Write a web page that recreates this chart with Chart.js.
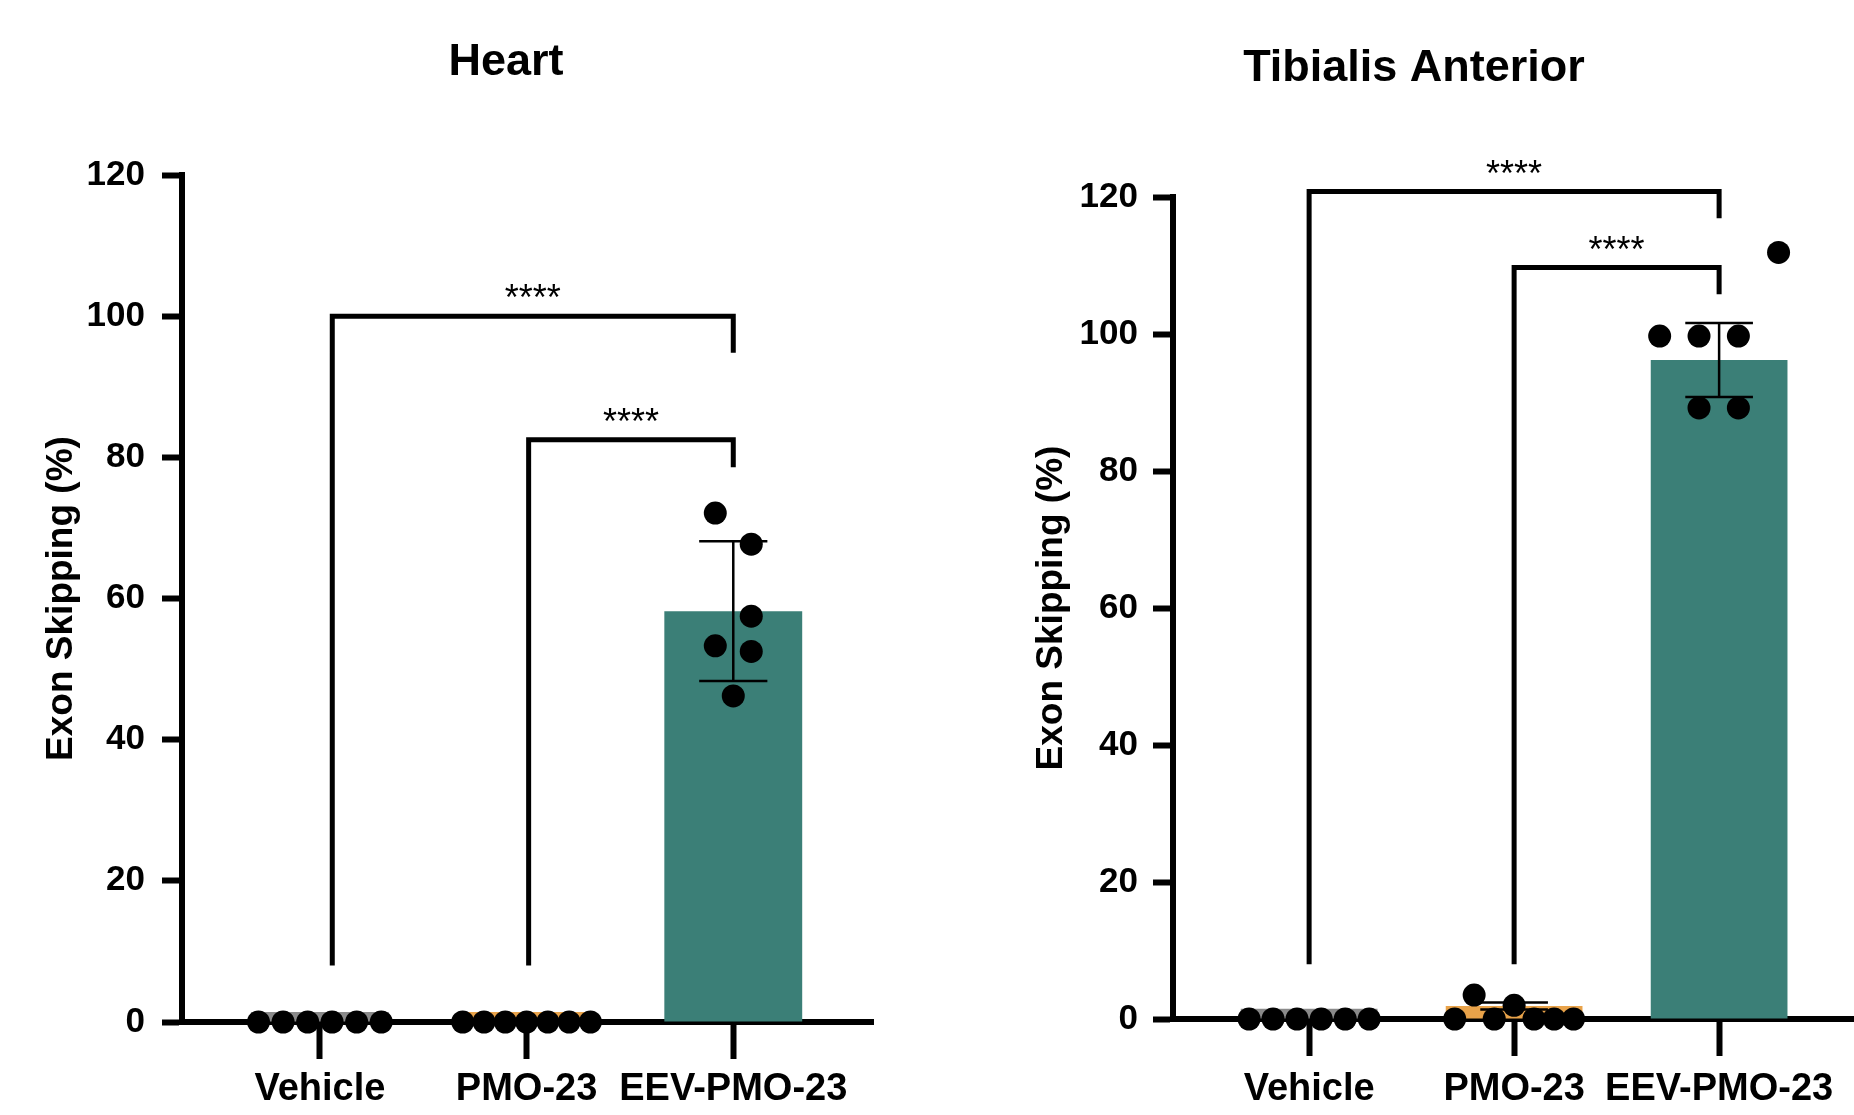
<!DOCTYPE html>
<html>
<head>
<meta charset="utf-8">
<title>Exon skipping</title>
<script src="https://cdn.jsdelivr.net/npm/chart.js@4.4.1/dist/chart.umd.min.js"></script>
<style>
  html, body { margin: 0; padding: 0; background: #fff; }
  body { width: 1854px; height: 1115px; position: relative; overflow: hidden; }
  canvas { position: absolute; top: 0; }
  #heart { left: 0; }
  #ta { left: 974px; }
</style>
</head>
<body>
<canvas id="heart" width="1012" height="1115"></canvas>
<canvas id="ta" width="880" height="1115"></canvas>
<script>
// Values
const groups = ['Vehicle', 'PMO-23', 'EEV-PMO-23'];
const yTicks = [0, 20, 40, 60, 80, 100, 120];

// Heart
const heartMeans = [1.4, 1.4, 58.2];
const heartSD = [0, 0, 9.9];
const heartPoints = [
    [0, 0, 0, 0, 0, 0],
    [0, 0, 0, 0, 0, 0, 0],
    [72.1, 67.7, 57.5, 53.3, 52.5, 46.2]
];
const heartSig = [
    { from: 0.06, to: 2, level: 100, end: 94.8, text: '****' },
    { from: 1.01, to: 2, level: 82.5, end: 78.6, text: '****' }
];

// Tibialis Anterior
const taMeans = [1.5, 1.9, 96.2];
const taSD = [0, 0.5, 5.4];
const taPoints = [
    [0, 0, 0, 0, 0, 0],
    [0, 3.5, 0, 2.0, 0, 0, 0],
    [99.7, 99.7, 99.7, 89.2, 89.2, 111.9]
];
const taSig = [
    { from: 0, to: 2, level: 120.8, end: 116.9, text: '****' },
    { from: 1, to: 2, level: 109.7, end: 105.8, text: '****' }
];

// horizontal spread of the dots inside each group (fraction of a group slot)
const heartJitter = [
    [-0.297, -0.178, -0.059, 0.059, 0.178, 0.297],
    [-0.309, -0.206, -0.103, 0, 0.103, 0.206, 0.309],
    [-0.087, 0.087, 0.087, -0.087, 0.087, 0]
];
const taJitter = [
    [-0.293, -0.176, -0.059, 0.059, 0.176, 0.293],
    [-0.29, -0.195, -0.097, 0, 0.097, 0.195, 0.29],
    [-0.29, -0.098, 0.094, -0.098, 0.094, 0.29]
];

const barColors = ['#8a8a8a', '#e9a34a', '#3b7f77'];
const FONT = "'Liberation Sans', Arial, Helvetica, sans-serif";
const LEG_BASE = 8;

Chart.defaults.font.family = FONT;
Chart.defaults.color = '#000';

// error bars, significance brackets and the panel title
function panelPlugin(cfg) {
    return {
        id: 'panel',
        afterDatasetDraw(chart, args) {
            if (args.index !== 0) return;
            const { x, y } = chart.scales;
            const ctx = chart.ctx;
            ctx.save();
            ctx.strokeStyle = '#000';
            ctx.lineWidth = 2.5;
            cfg.means.forEach((m, i) => {
                const sd = cfg.sd[i];
                if (!sd) return;
                const cx = x.getPixelForValue(i);
                const hi = y.getPixelForValue(m + sd);
                const lo = y.getPixelForValue(m - sd);
                const c0 = x.getPixelForValue(i - 0.165);
                const c1 = x.getPixelForValue(i + 0.165);
                ctx.beginPath();
                ctx.moveTo(cx, hi); ctx.lineTo(cx, lo);
                ctx.moveTo(c0, hi); ctx.lineTo(c1, hi);
                ctx.moveTo(c0, lo); ctx.lineTo(c1, lo);
                ctx.stroke();
            });
            ctx.restore();
        },
        afterDraw(chart) {
            const { x, y } = chart.scales;
            const ctx = chart.ctx;
            ctx.save();
            ctx.strokeStyle = '#000';
            ctx.fillStyle = '#000';
            ctx.lineWidth = 5;
            ctx.lineJoin = 'miter';
            ctx.lineCap = 'butt';
            ctx.font = '36px ' + FONT;
            ctx.textAlign = 'center';
            ctx.textBaseline = 'alphabetic';
            cfg.sig.forEach(s => {
                const x1 = x.getPixelForValue(s.from);
                const x2 = x.getPixelForValue(s.to);
                const yl = y.getPixelForValue(s.level);
                ctx.beginPath();
                ctx.moveTo(x1, y.getPixelForValue(LEG_BASE));
                ctx.lineTo(x1, yl);
                ctx.lineTo(x2, yl);
                ctx.lineTo(x2, y.getPixelForValue(s.end));
                ctx.stroke();
                ctx.fillText(s.text, (x1 + x2) / 2, yl - 6);
            });
            // panel title
            ctx.font = 'bold 45px ' + FONT;
            ctx.textBaseline = 'middle';
            ctx.fillText(cfg.title, chart.width / 2, cfg.titleY);
            ctx.restore();
        }
    };
}

function buildPanel(id, cfg) {
    const dots = [];
    cfg.points.forEach((vals, g) => {
        vals.forEach((v, k) => dots.push({ x: g + cfg.jitter[g][k], y: v }));
    });

    return new Chart(document.getElementById(id), {
        type: 'bar',
        data: {
            datasets: [
                {
                    type: 'bar',
                    data: cfg.means.map((m, i) => ({ x: i, y: m })),
                    backgroundColor: barColors,
                    categoryPercentage: 1,
                    barPercentage: 0.667,
                    order: 2
                },
                {
                    type: 'scatter',
                    data: dots,
                    pointRadius: 11.5,
                    pointBackgroundColor: '#000',
                    pointBorderWidth: 0,
                    clip: false,
                    order: 1
                }
            ]
        },
        options: {
            responsive: false,
            animation: false,
            events: [],
            layout: { padding: cfg.padding, autoPadding: false },
            plugins: {
                legend: { display: false },
                tooltip: { enabled: false }
            },
            scales: {
                x: {
                    type: 'linear',
                    min: cfg.xMin,
                    max: cfg.xMax,
                    offset: false,
                    z: 1,
                    afterBuildTicks: s => { s.ticks = groups.map((g, i) => ({ value: i })); },
                    afterFit: s => { s.height = cfg.xAxisHeight; },
                    grid: { offset: false, drawOnChartArea: false, tickLength: 37, tickWidth: 6, tickColor: '#000' },
                    border: { color: '#000', width: 6 },
                    ticks: {
                        callback: v => groups[v],
                        autoSkip: false,
                        maxRotation: 0,
                        minRotation: 0,
                        padding: cfg.xTickPad,
                        font: { size: 38, weight: 'bold' }
                    }
                },
                y: {
                    min: 0,
                    max: 120,
                    z: 1,
                    afterBuildTicks: s => { s.ticks = yTicks.map(v => ({ value: v })); },
                    afterFit: s => { s.width = cfg.yAxisWidth; },
                    grid: { drawOnChartArea: false, tickLength: 20, tickWidth: 6, tickColor: '#000' },
                    border: { color: '#000', width: 6 },
                    ticks: { padding: cfg.yTickPad, font: { size: 35, weight: 'bold' } },
                    title: {
                        display: true,
                        text: 'Exon Skipping (%)',
                        font: { size: 37, weight: 'bold' },
                        padding: { top: cfg.yTitlePad, bottom: 0 }
                    }
                }
            }
        },
        plugins: [panelPlugin(cfg)]
    });
}

buildPanel('heart', {
    title: 'Heart', titleY: 63,
    means: heartMeans, sd: heartSD, points: heartPoints, jitter: heartJitter, sig: heartSig,
    xMin: -0.667, xMax: 2.676,
    padding: { top: 175, right: 139, bottom: 0, left: 0 },
    yAxisWidth: 182, xAxisHeight: 93, yTickPad: 17, yTitlePad: 40, xTickPad: 8
});

buildPanel('ta', {
    title: 'Tibialis Anterior', titleY: 69,
    means: taMeans, sd: taSD, points: taPoints, jitter: taJitter, sig: taSig,
    xMin: -0.664, xMax: 2.658,
    padding: { top: 197, right: 0, bottom: 0, left: 0 },
    yAxisWidth: 199, xAxisHeight: 96, yTickPad: 15, yTitlePad: 56, xTickPad: 11
});
</script>
</body>
</html>
